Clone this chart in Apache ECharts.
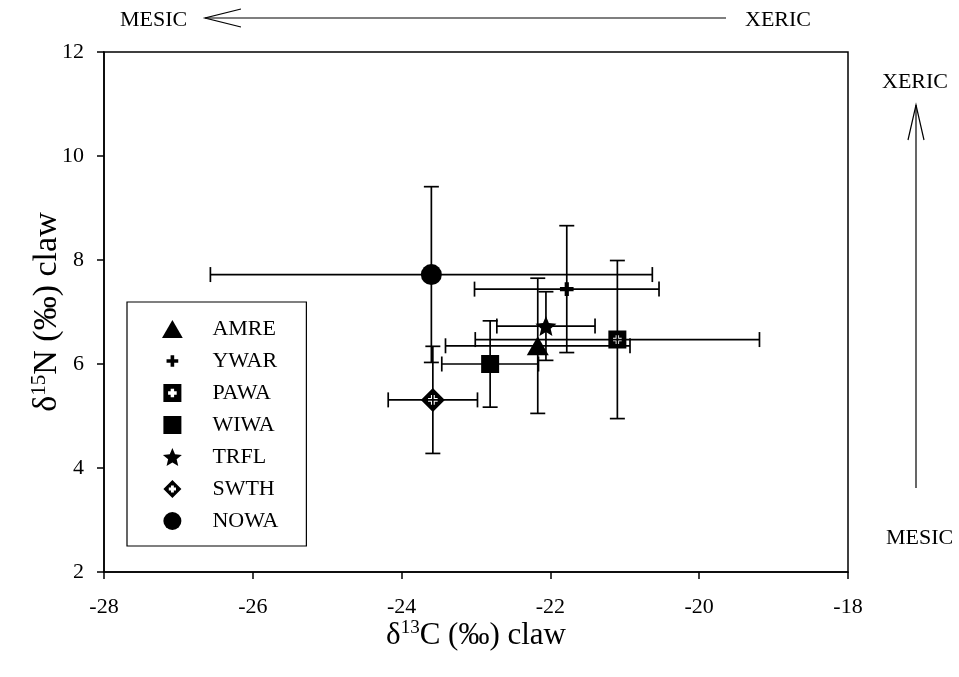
<!DOCTYPE html>
<html>
<head>
<meta charset="utf-8">
<script src="https://cdn.jsdelivr.net/npm/echarts@6/dist/echarts.min.js"></script>
<style>
html,body{margin:0;padding:0;background:#fff;}
#chart{width:959px;height:677px;}
</style>
</head>
<body>
<div id="chart"></div>
<script>
// ---- Data ----
const species = ['AMRE', 'YWAR', 'PAWA', 'WIWA', 'TRFL', 'SWTH', 'NOWA'];
const c13Mean = [-22.17, -21.78, -21.10, -22.81, -22.06, -23.58, -23.60];
const n15Mean = [6.35, 7.44, 6.47, 6.00, 6.73, 5.31, 7.72];
const c13Err  = [1.24, 1.24, 1.91, 0.65, 0.66, 0.60, 2.97];
const n15Err  = [1.30, 1.22, 1.52, 0.83, 0.66, 1.03, 1.69];
const xTicks = [-28, -26, -24, -22, -20, -18];
const yTicks = [2, 4, 6, 8, 10, 12];

// ---- Styles ----
const FONT = "'Liberation Serif', 'Times New Roman', serif";
const symbols = {
  AMRE: {symbol: 'path://M5,0L10,8.66L0,8.66Z', size: 22},
  YWAR: {symbol: 'path://M0,0ZM20,20ZM8,3.5H12V8H16.5V12H12V16.5H8V12H3.5V8H8Z', size: 21},
  PAWA: {symbol: 'path://M0,0H10V10H0ZM4.05,2.6V4.05H2.6V5.95H4.05V7.4H5.95V5.95H7.4V4.05H5.95V2.6Z', size: 18},
  WIWA: {symbol: 'path://M0,0H10V10H0Z', size: 18},
  TRFL: {symbol: 'path://M10,0L12.645,6.359L19.511,6.91L14.28,11.391L15.878,18.09L10,14.5L4.122,18.09L5.72,11.391L0.489,6.91L7.355,6.359Z', size: 21},
  SWTH: {symbol: 'path://M5,0L10,5L5,10L0,5ZM4.2,3V4.2H3V5.8H4.2V7H5.8V5.8H7V4.2H5.8V3Z', size: 24},
  NOWA: {symbol: 'circle', size: 21}
};

const chart = echarts.init(document.getElementById('chart'), null, {renderer: 'canvas'});

const errData = species.map((s, i) => [c13Mean[i], n15Mean[i], c13Err[i], n15Err[i]]);

const series = [{
  type: 'custom',
  name: 'err',
  z: 1,
  silent: true,
  data: errData,
  renderItem: function (params, api) {
    const x = api.value(0), y = api.value(1), ex = api.value(2), ey = api.value(3);
    const l = api.coord([x - ex, y]), r = api.coord([x + ex, y]);
    const t = api.coord([x, y + ey]), b = api.coord([x, y - ey]);
    const cap = 7.5;
    const st = {stroke: '#000', lineWidth: 1.7, fill: null};
    const ln = (x1, y1, x2, y2) => ({type: 'line', shape: {x1, y1, x2, y2}, style: st});
    return {
      type: 'group',
      children: [
        ln(l[0], l[1], r[0], r[1]),
        ln(l[0], l[1] - cap, l[0], l[1] + cap),
        ln(r[0], r[1] - cap, r[0], r[1] + cap),
        ln(t[0], t[1], b[0], b[1]),
        ln(t[0] - cap, t[1], t[0] + cap, t[1]),
        ln(b[0] - cap, b[1], b[0] + cap, b[1])
      ]
    };
  }
}];

species.forEach((s, i) => {
  series.push({
    type: 'scatter',
    name: s,
    z: 5,
    symbol: symbols[s].symbol,
    symbolSize: symbols[s].size,
    symbolKeepAspect: true,
    itemStyle: {color: '#000', opacity: 1},
    emphasis: {disabled: true},
    data: [[c13Mean[i], n15Mean[i]]]
  });
});

const xTitleRich = {
  d: {fontFamily: FONT, fontSize: 31, color: '#000', lineHeight: 34},
  s: {fontFamily: FONT, fontSize: 19, color: '#000', verticalAlign: 'top', lineHeight: 19}
};
const yTitleRich = {
  d: {fontFamily: FONT, fontSize: 34, color: '#000', lineHeight: 36},
  s: {fontFamily: FONT, fontSize: 21, color: '#000', verticalAlign: 'top', lineHeight: 21}
};

const option = {
  animation: false,
  backgroundColor: '#fff',
  grid: {left: 104, right: 111, top: 52, bottom: 105, show: true, borderColor: '#000', borderWidth: 1.5, backgroundColor: 'transparent'},
  legend: {
    data: species,
    orient: 'vertical',
    left: 127,
    top: 302,
    padding: [16, 28, 14, 35],
    itemWidth: 70,
    itemHeight: 18,
    itemGap: 10,
    selectedMode: false,
    borderColor: '#000',
    borderWidth: 1.2,
    backgroundColor: '#fff',
    textStyle: {fontFamily: FONT, fontSize: 22, color: '#000'}
  },
  xAxis: {
    type: 'value',
    min: xTicks[0],
    max: xTicks[xTicks.length - 1],
    interval: 2,
    name: '{d|δ}{s|13}{d|C (‰) claw}',
    nameLocation: 'middle',
    nameGap: 47,
    nameMoveOverlap: false,
    nameTextStyle: {rich: xTitleRich},
    axisLine: {show: true, onZero: false, lineStyle: {color: '#000', width: 1.5}},
    axisTick: {show: true, inside: false, length: 7, lineStyle: {color: '#000', width: 1.5}},
    axisLabel: {margin: 24, fontFamily: FONT, fontSize: 22, color: '#000'},
    splitLine: {show: false}
  },
  yAxis: {
    type: 'value',
    min: yTicks[0],
    max: yTicks[yTicks.length - 1],
    interval: 2,
    name: '{d|δ}{s|15}{d|N (‰) claw}',
    nameLocation: 'middle',
    nameGap: 39,
    nameMoveOverlap: false,
    nameTextStyle: {rich: yTitleRich},
    axisLine: {show: true, onZero: false, lineStyle: {color: '#000', width: 1.5}},
    axisTick: {show: true, inside: false, length: 7, lineStyle: {color: '#000', width: 1.5}},
    axisLabel: {margin: 20, fontFamily: FONT, fontSize: 22, color: '#000'},
    splitLine: {show: false}
  },
  graphic: [
    // top gradient annotation
    {type: 'text', left: 120, top: 9, style: {text: 'MESIC', font: '22px ' + FONT, fill: '#000'}},
    {type: 'line', shape: {x1: 205, y1: 18, x2: 726, y2: 18}, style: {stroke: '#000', lineWidth: 1.2}},
    {type: 'polyline', shape: {points: [[241, 9], [205, 18], [241, 27]]}, style: {stroke: '#000', lineWidth: 1.2, fill: null}},
    {type: 'text', left: 745, top: 9, style: {text: 'XERIC', font: '22px ' + FONT, fill: '#000'}},
    // right annotation
    {type: 'text', left: 882, top: 71, style: {text: 'XERIC', font: '22px ' + FONT, fill: '#000'}},
    {type: 'line', shape: {x1: 916, y1: 105, x2: 916, y2: 488}, style: {stroke: '#000', lineWidth: 1.2}},
    {type: 'polyline', shape: {points: [[908, 140], [916, 105], [924, 140]]}, style: {stroke: '#000', lineWidth: 1.2, fill: null}},
    {type: 'text', left: 886, top: 527, style: {text: 'MESIC', font: '22px ' + FONT, fill: '#000'}}
  ],
  series: series
};

chart.setOption(option);
</script>
</body>
</html>
